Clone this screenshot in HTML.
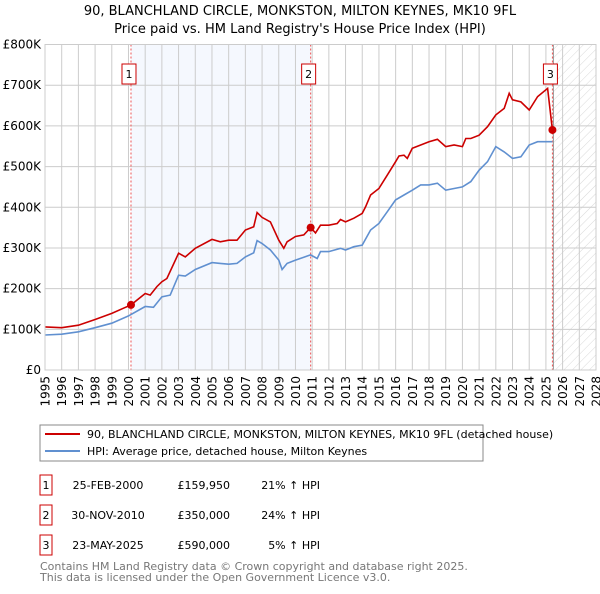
<!DOCTYPE html>
<html><head><meta charset="utf-8"><style>
body{margin:0;background:#fff;font-family:"DejaVu Sans","Liberation Sans",sans-serif;}
svg text{font-family:"DejaVu Sans","Liberation Sans",sans-serif;}
</style></head><body>
<svg id="chart" width="600" height="590" xmlns="http://www.w3.org/2000/svg">
<defs><pattern id="hatch" width="6" height="6" patternUnits="userSpaceOnUse" patternTransform="rotate(45)"><line x1="0" y1="0" x2="0" y2="6" stroke="#c8c8c8" stroke-width="0.7"/></pattern></defs>
<text x="300" y="15" text-anchor="middle" font-size="13">90, BLANCHLAND CIRCLE, MONKSTON, MILTON KEYNES, MK10 9FL</text>
<text x="300" y="33" text-anchor="middle" font-size="13">Price paid vs. HM Land Registry's House Price Index (HPI)</text>
<g id="plot"></g>
<g>
<rect x="40" y="425" width="443" height="36" fill="#fff" stroke="#888"/>
<line x1="45" y1="434" x2="80" y2="434" stroke="#cc0000" stroke-width="2"/>
<text x="87" y="438" font-size="11">90, BLANCHLAND CIRCLE, MONKSTON, MILTON KEYNES, MK10 9FL (detached house)</text>
<line x1="45" y1="451" x2="80" y2="451" stroke="#6090d0" stroke-width="2"/>
<text x="87" y="455" font-size="11">HPI: Average price, detached house, Milton Keynes</text>
</g>
<g font-size="11">
<rect x="40" y="475" width="12" height="20" fill="#fff" stroke="#cc0000"/><text x="46" y="489" text-anchor="middle">1</text>
<text x="108" y="489" text-anchor="middle">25-FEB-2000</text><text x="230" y="489" text-anchor="end">£159,950</text><text x="320" y="489" text-anchor="end">21% ↑ HPI</text>
<rect x="40" y="505" width="12" height="20" fill="#fff" stroke="#cc0000"/><text x="46" y="519" text-anchor="middle">2</text>
<text x="108" y="519" text-anchor="middle">30-NOV-2010</text><text x="230" y="519" text-anchor="end">£350,000</text><text x="320" y="519" text-anchor="end">24% ↑ HPI</text>
<rect x="40" y="535" width="12" height="20" fill="#fff" stroke="#cc0000"/><text x="46" y="549" text-anchor="middle">3</text>
<text x="108" y="549" text-anchor="middle">23-MAY-2025</text><text x="230" y="549" text-anchor="end">£590,000</text><text x="320" y="549" text-anchor="end">5% ↑ HPI</text>
</g>
<text x="40" y="570" font-size="11" fill="#777">Contains HM Land Registry data © Crown copyright and database right 2025.</text>
<text x="40" y="581" font-size="11" fill="#777">This data is licensed under the Open Government Licence v3.0.</text>
</svg>
<script>
const yTicks=[0,100,200,300,400,500,600,700,800];
const yLabels=["£0","£100K","£200K","£300K","£400K","£500K","£600K","£700K","£800K"];
const years=[1995,1996,1997,1998,1999,2000,2001,2002,2003,2004,2005,2006,2007,2008,2009,2010,2011,2012,2013,2014,2015,2016,2017,2018,2019,2020,2021,2022,2023,2024,2025,2026,2027,2028];
const saleDates=[2000.15,2010.91,2025.39];
const salePrices=[160,350,590];
const saleLabels=["1","2","3"];
const redT=[1995,1996,1997,1998,1999,1999.7,2000.15,2001,2001.3,2001.7,2002,2002.3,2003,2003.4,2004,2005,2005.5,2006,2006.5,2007,2007.5,2007.7,2008,2008.5,2009,2009.3,2009.5,2010,2010.5,2010.91,2011.2,2011.5,2012,2012.5,2012.7,2013,2013.5,2014,2014.2,2014.5,2015,2015.5,2016,2016.2,2016.5,2016.7,2017,2017.5,2018,2018.5,2019,2019.5,2020,2020.2,2020.5,2021,2021.5,2022,2022.5,2022.8,2023,2023.5,2024,2024.5,2025.1,2025.39];
const redV=[106,104,110,124,139,152,160,188,184,205,217,225,287,278,299,321,315,319,319,344,352,387,375,364,319,299,315,328,332,350,337,356,356,360,370,364,373,385,401,430,446,479,512,526,528,520,545,553,561,567,549,553,549,569,569,577,598,627,643,680,664,659,639,672,692,590];
const blueT=[1995,1996,1997,1998,1999,2000,2001,2001.5,2002,2002.5,2003,2003.4,2004,2005,2005.5,2006,2006.5,2007,2007.5,2007.7,2008,2008.5,2009,2009.2,2009.5,2010,2010.5,2010.9,2011.3,2011.5,2012,2012.7,2013,2013.5,2014,2014.5,2015,2015.5,2016,2016.5,2017,2017.5,2018,2018.5,2019,2019.5,2020,2020.5,2021,2021.5,2022,2022.5,2023,2023.5,2024,2024.5,2025.39];
const blueV=[86,88,94,104,115,133,156,154,180,184,233,231,247,264,262,260,262,278,288,318,311,295,270,247,262,270,277,283,274,291,291,299,295,303,307,344,360,389,418,430,442,455,455,459,442,446,450,463,491,512,549,536,520,524,553,561,561];
const X0=45,X1=596,Y0=370,Y1=44.5;
const xS=t=>X0+(t-1995)/(2028-1995)*(X1-X0);
const yS=v=>Y0-v/800*(Y0-Y1);
const NS="http://www.w3.org/2000/svg";
const g=document.getElementById('plot');
function mk(tag,attrs,parent){const e=document.createElementNS(NS,tag);for(const k in attrs)e.setAttribute(k,attrs[k]);(parent||g).appendChild(e);return e;}
const bg=mk('rect',{x:X0,y:Y1,width:X1-X0,height:Y0-Y1,fill:'#fff'});


const sh=mk('rect',{x:xS(saleDates[0]),y:Y1,width:xS(saleDates[1])-xS(saleDates[0]),height:Y0-Y1,fill:'#f5f8fe'});


const ht=mk('rect',{x:xS(saleDates[2]),y:Y1,width:X1-xS(saleDates[2]),height:Y0-Y1,fill:'url(#hatch)'});


years.forEach(yr=>{const l=mk('line',{x1:xS(yr),x2:xS(yr),y1:Y1,y2:Y0,stroke:'#ccc','stroke-width':1});


const t=mk('text',{x:0,y:0,'font-size':12,'text-anchor':'end',transform:`translate(${xS(yr)+4.5},${Y0+6}) rotate(-90)`});
t.textContent=yr;

});
yTicks.forEach((v,i)=>{const l=mk('line',{x1:X0,x2:X1,y1:yS(v),y2:yS(v),stroke:'#ccc','stroke-width':1});


const t=mk('text',{x:X0-4,y:yS(v)+4,'font-size':12,'text-anchor':'end'});
t.textContent=yLabels[i];

});
const vl=mk('line',{x1:xS(saleDates[2])+1,x2:xS(saleDates[2])+1,y1:Y1,y2:Y0,stroke:'#999'});


saleDates.forEach((d,i)=>{const l=mk('line',{x1:xS(d),x2:xS(d),y1:Y1,y2:Y0,stroke:'#ee5555','stroke-dasharray':'2,2','stroke-width':1});

});
const path=(T,V)=>T.map((t,i)=>(i?'L':'M')+xS(t).toFixed(1)+','+yS(V[i]).toFixed(1)).join('');
const bl=mk('path',{d:path(blueT,blueV),fill:'none',stroke:'#6090d0','stroke-width':1.6});


const rl=mk('path',{d:path(redT,redV),fill:'none',stroke:'#cc0000','stroke-width':1.6});


saleDates.forEach((d,i)=>{const c=mk('circle',{cx:xS(d),cy:yS(salePrices[i]),r:4,fill:'#cc0000'});


const b=mk('rect',{x:xS(d)-9,y:64,width:14,height:20,fill:'#fff',stroke:'#cc0000'});


const t=mk('text',{x:xS(d)-2,y:78,'font-size':11,'text-anchor':'middle'});
t.textContent=saleLabels[i];

});
const fr=mk('rect',{x:X0,y:Y1,width:X1-X0,height:Y0-Y1,fill:'none',stroke:'#ccc'});


</script>
</body></html>
